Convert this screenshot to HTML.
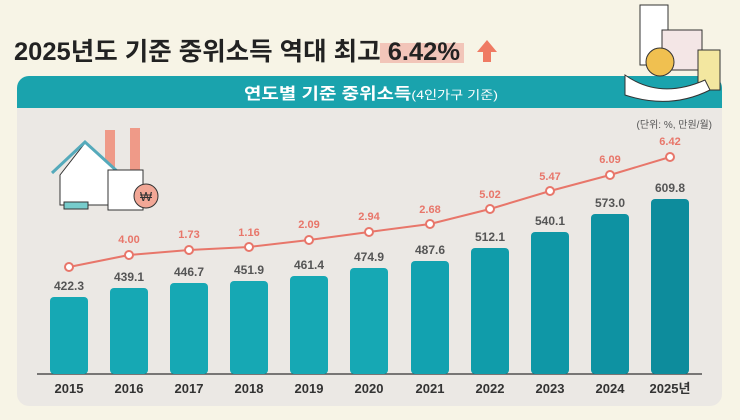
<!DOCTYPE html><html><head><meta charset="utf-8"><style>
body{margin:0;width:740px;height:415px;overflow:hidden;background:#f7f4e6;font-family:"Liberation Sans","Noto Sans CJK KR",sans-serif}
</style></head><body>
<svg width="740" height="415" xmlns="http://www.w3.org/2000/svg" font-family="Liberation Sans, Noto Sans CJK KR, sans-serif">
<rect width="740" height="415" fill="#f7f4e6"/>
<rect x="17" y="76" width="705" height="330" rx="12" fill="#ebe8e4"/>
<path d="M17 108 V88 a12 12 0 0 1 12 -12 H710 a12 12 0 0 1 12 12 V108 Z" fill="#1aa3ad"/>
<text x="244" y="99" textLength="254" lengthAdjust="spacingAndGlyphs" fill="#fff" font-weight="bold" font-size="16">연도별 기준 중위소득<tspan font-size="12" font-weight="normal">(4인가구 기준)</tspan></text>
<rect x="380" y="43" width="84" height="20" fill="#f2c5b9"/>
<text x="14" y="60" textLength="446" lengthAdjust="spacingAndGlyphs" font-size="25" font-weight="bold" fill="#222">2025년도 기준 중위소득 역대 최고 6.42%</text>
<path d="M483 62 V52 H477 L487 40 L497 52 H491 V62 Z" fill="#ef7a63"/>
<text x="712" y="128" text-anchor="end" font-size="10" fill="#555">(단위: %, 만원/월)</text>
<!-- decorative building -->
<rect x="640" y="5" width="28" height="60" fill="#fff" stroke="#333"/>
<rect x="662" y="30" width="40" height="40" fill="#f4e6e6" stroke="#333"/>
<circle cx="660" cy="62" r="14" fill="#f0c050" stroke="#333"/>
<rect x="698" y="50" width="22" height="40" fill="#f3e7a0" stroke="#333"/>
<path d="M625 75 Q660 100 705 80 L710 90 Q670 110 625 95Z" fill="#fff" stroke="#333"/>
<!-- house -->
<g stroke="#333" stroke-width="1">
<rect x="105" y="130" width="10" height="40" fill="#ef9a88" stroke="none"/>
<rect x="130" y="128" width="10" height="42" fill="#ef9a88" stroke="none"/>
<path d="M60 175 V205 H115 V170 L85 143 Z" fill="#fff"/>
<path d="M52 173 L85 142 L118 172" fill="none" stroke="#5ab" stroke-width="3"/>
<rect x="108" y="170" width="35" height="40" fill="#fff"/>
<circle cx="146" cy="196" r="12" fill="#f2a796"/>
<rect x="64" y="202" width="24" height="7" fill="#7cc"/>
</g>
<text x="146" y="201" text-anchor="middle" font-size="13" fill="#333">₩</text>
<line x1="37" y1="374" x2="702" y2="374" stroke="#333" stroke-width="1.2"/>
<g fill="#16a8b4">
<rect x="50" y="297" width="38" height="77" rx="4"/>
<rect x="110" y="288" width="38" height="86" rx="4"/>
<rect x="170" y="283" width="38" height="91" rx="4"/>
<rect x="230" y="281" width="38" height="93" rx="4"/>
<rect x="290" y="276" width="38" height="98" rx="4"/>
<rect x="350" y="268" width="38" height="106" rx="4"/>
<rect x="411" y="261" width="38" height="113" rx="4" fill="#12a2b0"/>
<rect x="471" y="248" width="38" height="126" rx="4" fill="#109caa"/>
<rect x="531" y="232" width="38" height="142" rx="4" fill="#0f97a6"/>
<rect x="591" y="214" width="38" height="160" rx="4" fill="#0e92a2"/>
<rect x="651" y="199" width="38" height="175" rx="4" fill="#0d8c9c"/>
</g>
<g font-size="12" font-weight="bold" fill="#555" text-anchor="middle">
<text x="69" y="290">422.3</text><text x="129" y="281">439.1</text><text x="189" y="276">446.7</text>
<text x="249" y="274">451.9</text><text x="309" y="269">461.4</text><text x="369" y="261">474.9</text>
<text x="430" y="254">487.6</text><text x="490" y="241">512.1</text><text x="550" y="225">540.1</text>
<text x="610" y="207">573.0</text><text x="670" y="192">609.8</text>
</g>
<polyline points="69,267 129,255 189,250 249,247 309,240 369,232 430,224 490,209 550,191 610,175 670,157" fill="none" stroke="#e8766a" stroke-width="2"/>
<g fill="#fff" stroke="#e8766a" stroke-width="2">
<circle cx="69" cy="267" r="4"/><circle cx="129" cy="255" r="4"/><circle cx="189" cy="250" r="4"/><circle cx="249" cy="247" r="4"/><circle cx="309" cy="240" r="4"/><circle cx="369" cy="232" r="4"/><circle cx="430" cy="224" r="4"/><circle cx="490" cy="209" r="4"/><circle cx="550" cy="191" r="4"/><circle cx="610" cy="175" r="4"/><circle cx="670" cy="157" r="4"/>
</g>
<g font-size="11" font-weight="bold" fill="#e8766a" text-anchor="middle">
<text x="129" y="243">4.00</text><text x="189" y="238">1.73</text><text x="249" y="236">1.16</text>
<text x="309" y="228">2.09</text><text x="369" y="220">2.94</text><text x="430" y="213">2.68</text>
<text x="490" y="198">5.02</text><text x="550" y="180">5.47</text><text x="610" y="163">6.09</text><text x="670" y="145">6.42</text>
</g>
<g font-size="13" font-weight="bold" fill="#333" text-anchor="middle">
<text x="69" y="393">2015</text><text x="129" y="393">2016</text><text x="189" y="393">2017</text><text x="249" y="393">2018</text>
<text x="309" y="393">2019</text><text x="369" y="393">2020</text><text x="430" y="393">2021</text><text x="490" y="393">2022</text>
<text x="550" y="393">2023</text><text x="610" y="393">2024</text><text x="670" y="393">2025년</text>
</g>
</svg>
</body></html>
